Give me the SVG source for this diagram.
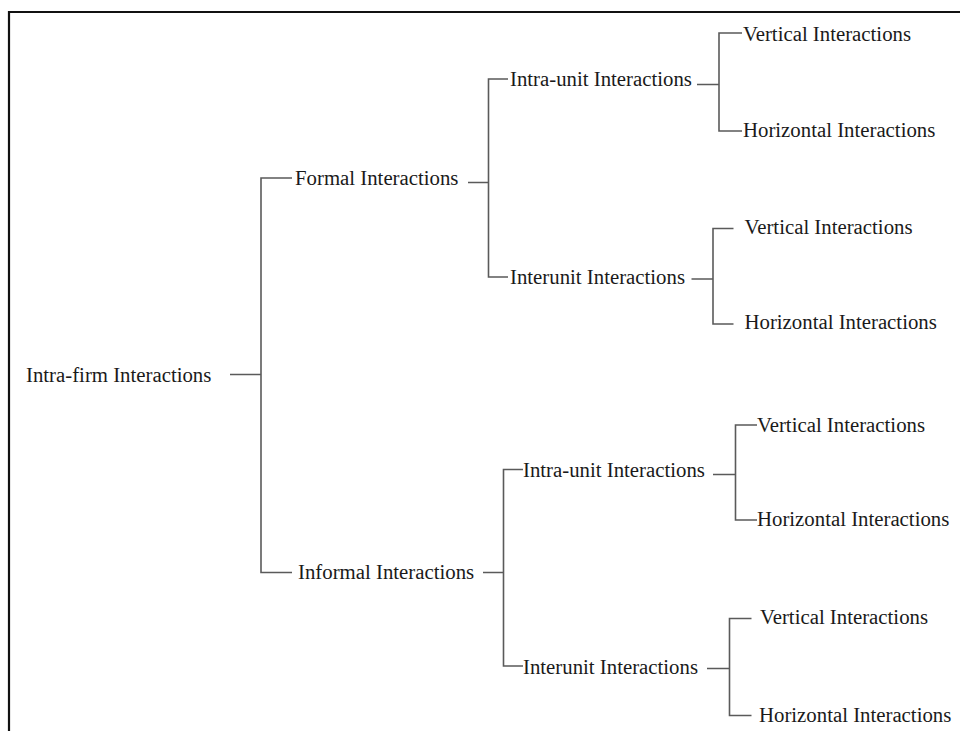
<svg xmlns="http://www.w3.org/2000/svg" width="960" height="731" viewBox="0 0 960 731">
  <style>
    text { font-family: "Liberation Serif", "Times New Roman", serif; font-size: 20.8px; fill: #1a1a1a; }
    .ln { stroke: #5a5a5a; stroke-width: 1.6; fill: none; }
    .frame { stroke: #111; stroke-width: 2.2; fill: none; }
  </style>
  <rect width="960" height="731" fill="#ffffff"/>
  <!-- outer frame (cropped at right and bottom) -->
  <path class="frame" d="M9,731 V12 H960"/>

  <g id="connectors">
    <!-- root to level 1 -->
    <path class="ln" d="M230,374.5 H261 M292,178 H261 V572.5 H292"/>
    <!-- Formal branch -->
    <path class="ln" d="M468,182.5 H488.5 M508,79 H488.5 V277 H508"/>
    <path class="ln" d="M697,84.5 H719 M742,33 H719 V131 H742"/>
    <path class="ln" d="M691.5,279 H713 M733.5,228.5 H713 V324 H733.5"/>
    <!-- Informal branch -->
    <path class="ln" d="M483,572.5 H503.5 M523,469.5 H503.5 V666 H523"/>
    <path class="ln" d="M713,474.5 H735.5 M757,425 H735.5 V520 H757"/>
    <path class="ln" d="M707,668.5 H729.5 M751.5,618.5 H729.5 V715.5 H751.5"/>
  </g>

  <g id="intra-firm"><text x="26" y="381.5">Intra-firm Interactions</text></g>

  <g id="formal"><text x="295" y="185">Formal Interactions</text></g>
  <g id="formal-intra-unit"><text x="510" y="86">Intra-unit Interactions</text></g>
  <g id="formal-intra-unit-vertical"><text x="743" y="40.5">Vertical Interactions</text></g>
  <g id="formal-intra-unit-horizontal"><text x="743" y="136.5">Horizontal Interactions</text></g>
  <g id="formal-interunit"><text x="510" y="284">Interunit Interactions</text></g>
  <g id="formal-interunit-vertical"><text x="744.5" y="234">Vertical Interactions</text></g>
  <g id="formal-interunit-horizontal"><text x="744.5" y="329">Horizontal Interactions</text></g>

  <g id="informal"><text x="298" y="579">Informal Interactions</text></g>
  <g id="informal-intra-unit"><text x="523" y="476.5">Intra-unit Interactions</text></g>
  <g id="informal-intra-unit-vertical"><text x="757" y="431.5">Vertical Interactions</text></g>
  <g id="informal-intra-unit-horizontal"><text x="757" y="526">Horizontal Interactions</text></g>
  <g id="informal-interunit"><text x="523" y="673.5">Interunit Interactions</text></g>
  <g id="informal-interunit-vertical"><text x="760" y="624">Vertical Interactions</text></g>
  <g id="informal-interunit-horizontal"><text x="759" y="721.5">Horizontal Interactions</text></g>
</svg>
